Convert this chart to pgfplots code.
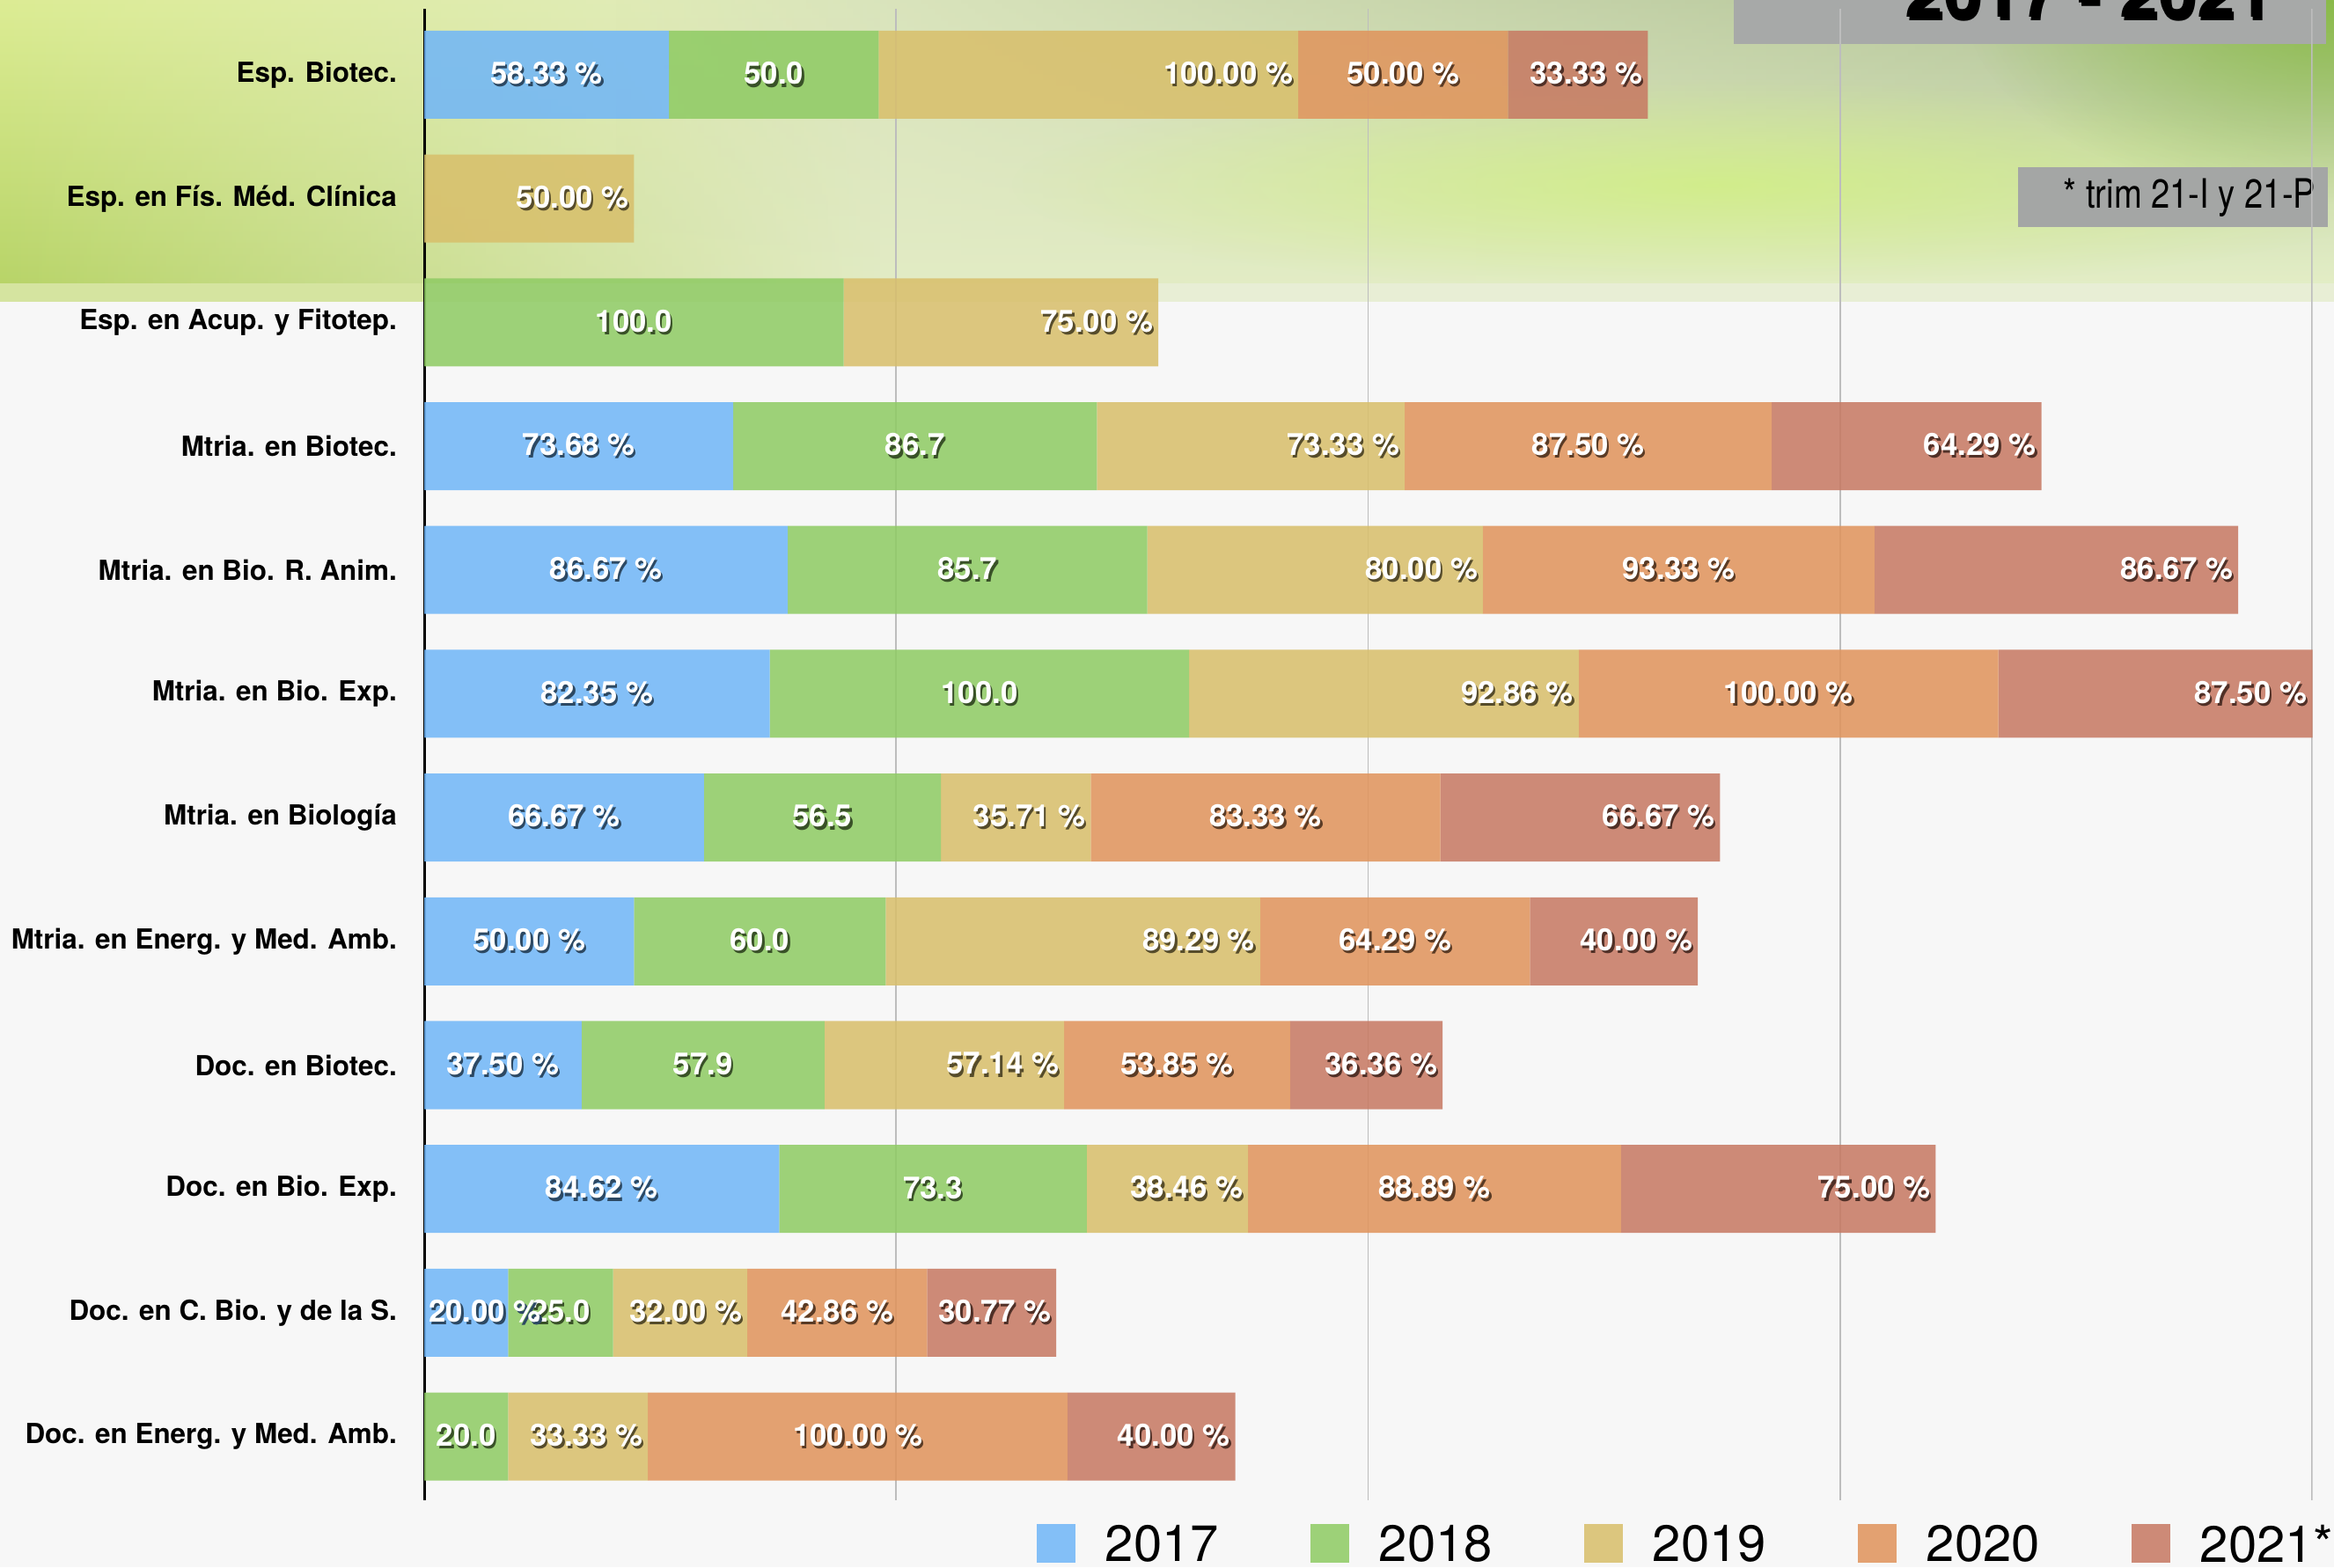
\documentclass[border=0pt]{standalone}
\usepackage{fontspec}
\setmainfont{TeX Gyre Heros}
\newfontfamily\condfont[FakeStretch=0.83]{TeX Gyre Heros}
\usepackage{pgfplots}
\usepackage{pgfplotstable}
\pgfplotsset{compat=1.18}
\usetikzlibrary{fadings}
\tikzfading[name=radfade, inner color=transparent!0, outer color=transparent!100]

\definecolor{bg}{HTML}{F7F7F7}
\definecolor{c17}{RGB}{112,182,248}
\definecolor{c18}{RGB}{143,203,100}
\definecolor{c19}{RGB}{216,191,107}
\definecolor{c20}{RGB}{224,148,92}
\definecolor{c21}{RGB}{199,121,98}
\colorlet{s17}{c17!40!black}
\colorlet{s18}{c18!40!black}
\colorlet{s19}{c19!40!black}
\colorlet{s20}{c20!40!black}
\colorlet{s21}{c21!40!black}
\definecolor{gridc}{HTML}{BDBDBD}
\definecolor{boxg}{HTML}{A7A9A8}
\definecolor{boxg2}{RGB}{164,166,165}
\definecolor{hdrmid}{RGB}{226,235,196}
\definecolor{hlt}{RGB}{220,236,148}
\definecolor{hlm}{RGB}{232,234,226}
\definecolor{hlb}{RGB}{184,212,104}
\definecolor{hrt}{RGB}{172,190,146}
\definecolor{hrm}{RGB}{210,240,128}
\definecolor{hrb}{RGB}{227,238,198}
\definecolor{blob}{RGB}{130,186,56}
\definecolor{lime}{RGB}{208,242,120}
\definecolor{band}{RGB}{232,238,213}
\definecolor{bandl}{RGB}{213,228,160}

\pgfplotstableread{
y a b c d e t
0 0 20.0 33.33 100.00 40.00 193.33
1 20.00 25.0 32.00 42.86 30.77 150.63
2 84.62 73.3 38.46 88.89 75.00 360.27
3 37.50 57.9 57.14 53.85 36.36 242.75
4 50.00 60.0 89.29 64.29 40.00 303.58
5 66.67 56.5 35.71 83.33 66.67 308.88
6 82.35 100.0 92.86 100.00 87.50 462.71
7 86.67 85.7 80.00 93.33 86.67 432.37
8 73.68 86.7 73.33 87.50 64.29 385.50
9 0 100.0 75.00 0 0 175.00
10 0 0 50.00 0 0 50.00
11 58.33 50.0 100.00 50.00 33.33 291.66
}\datatable

\newcommand\bl[2]{\makebox[0pt][l]{\kern0.6pt\raisebox{-0.8pt}{\textcolor{#1}{#2}}}\textcolor{white}{#2}}
\newcommand\pct{\pgfmathprintnumber[fixed,fixed zerofill,precision=2]{\pgfplotspointmeta}~\%}
\newcommand\one{\pgfmathprintnumber[fixed,fixed zerofill,precision=1]{\pgfplotspointmeta}}
\newcommand\nz[1]{\pgfmathfloatifflags{\pgfplotspointmeta}{0}{}{#1}}

\begin{document}
\begin{tikzpicture}
\useasboundingbox (0,0) rectangle (663pt,445.25pt);
\begin{scope}[x=0.25pt,y=-0.25pt,shift={(0,445.25pt)}]
  \fill[bg] (0,0) rectangle (2652,1781);
  \fill[hdrmid] (0,0) rectangle (2652,322);
  \shade[top color=hlt, middle color=hlm, bottom color=hlb, path fading=east] (0,0) rectangle (1000,322);
  \shade[top color=hrt, middle color=hrm, bottom color=hrb, path fading=west] (700,0) rectangle (2652,322);
  \begin{scope}
    \clip (0,0) rectangle (2652,322);
    \fill[lime, fill opacity=0.7, path fading=radfade] (1950,210) ellipse (800 and 120);
    \fill[blob, fill opacity=0.8, path fading=radfade] (2652,0) ellipse (420 and 230);
  \end{scope}
  \fill[band] (0,322) rectangle (2652,343);
  \fill[bandl] (0,322) rectangle (482,343);
  % title box
  \fill[boxg] (1970,0) rectangle (2643,50);
  \node[anchor=base east, inner sep=0pt, font=\bfseries\fontsize{19.6}{20}\selectfont] at (2584,20) {\bl{black!45}{\textcolor{black}{2017 - 2021}}};
  % trim box
  \fill[boxg2] (2293,190) rectangle (2645,258);
  \node[anchor=base east, inner sep=0pt, font=\condfont\fontsize{11.5}{12}\selectfont] at (2632,237) {* trim 21-I y 21-P};
\end{scope}

\begin{scope}
% keep the bars inside the plotting area on the right side, as in the reference
\clip (0pt,0pt) -- (663pt,0pt) -- (663pt,19pt) -- (656.9pt,19pt) -- (656.9pt,445.25pt) -- (0pt,445.25pt) -- cycle;
\begin{axis}[
  at={(120.5pt,19pt)}, anchor=south west,
  scale only axis, width=536.25pt, height=423.75pt,
  xbar stacked, bar width=25pt,
  xmin=0, xmax=450, ymin=-0.515, ymax=11.533,
  enlargelimits=false,
  clip=false,
  /pgf/number format/assume math mode=true,
  xtick={0,112.5,225,337.5,450}, xticklabels={}, xmajorgrids,
  grid style={gridc, line width=0.45pt},
  ytick={0,...,11},
  yticklabels={Doc. en Energ. y Med. Amb., Doc. en C. Bio. y de la S., Doc. en Bio. Exp., Doc. en Biotec., Mtria. en Energ. y Med. Amb., Mtria. en Biología, Mtria. en Bio. Exp., Mtria. en Bio. R. Anim., Mtria. en Biotec., Esp. en Acup. y Fitotep., Esp. en Fís. Méd. Clínica, Esp. Biotec.},
  yticklabel style={font=\bfseries\fontsize{7.85}{9.4}\selectfont, inner sep=0pt, xshift=-7.6pt},
  major tick length=0pt,
  axis lines*=left,
  x axis line style={draw=none},
  y axis line style={black, line width=0.75pt, -},
  point meta=explicit,
  every axis plot/.append style={draw=none, fill opacity=0.86},
  every node near coord/.append style={font=\bfseries\fontsize{8.7}{10}\selectfont, inner sep=0pt, fill opacity=1, text opacity=1, draw opacity=1},
  legend image code/.code={\fill[#1, draw=none] (0pt,-5.5pt) rectangle (11pt,5.5pt);},
  legend style={at={(0.324,-0.0425)}, anchor=south west, draw=none, fill=none, inner sep=0pt,
    font=\fontsize{14.5}{17}\selectfont, nodes={inner sep=0pt, text depth=0pt},
    /tikz/every odd column/.append style={column sep=8.5pt},
    /tikz/every even column/.append style={column sep=26pt}},
  legend columns=5,
]
\addplot[fill=c17, visualization depends on={\thisrow{a} \as \segw},
  nodes near coords={\nz{\bl{s17}{\pct}}},
  every node near coord/.append style={anchor=center, shift={(axis direction cs:{max(0,14.5-\segw/2)},0)}}]
  table[x=a, y=y, meta=a] {\datatable};
\addplot[fill=c18,
  nodes near coords={\nz{\bl{s18}{\one}}},
  every node near coord/.append style={anchor=center}]
  table[x=b, y=y, meta=b] {\datatable};
\addplot[fill=c19, visualization depends on={\thisrow{c} \as \segw},
  nodes near coords={\nz{\bl{s19}{\pct}}},
  every node near coord/.append style={anchor=east, xshift=-1.3pt, shift={(axis direction cs:{\segw/2},0)}}]
  table[x=c, y=y, meta=c] {\datatable};
\addplot[fill=c20,
  nodes near coords={\nz{\bl{s20}{\pct}}},
  every node near coord/.append style={anchor=center}]
  table[x=d, y=y, meta=d] {\datatable};
\addplot[fill=c21, visualization depends on={\thisrow{e} \as \segw},
  visualization depends on={\thisrow{t} \as \tot},
  nodes near coords={\nz{\bl{s21}{\pct}}},
  every node near coord/.append style={anchor=east, xshift=-1.3pt, shift={(axis direction cs:{min(\segw/2,450-\tot+\segw/2)},0)}}]
  table[x=e, y=y, meta=e] {\datatable};
\legend{2017,2018,2019,2020,2021*}
\end{axis}
\end{scope}
\end{tikzpicture}
\end{document}
